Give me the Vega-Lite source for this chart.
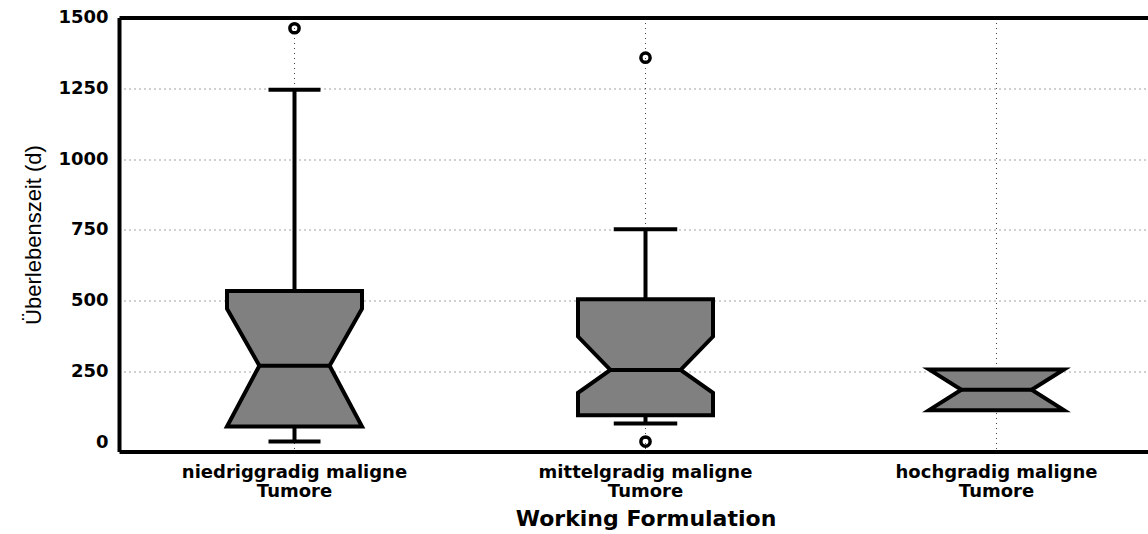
{
  "$schema": "https://vega.github.io/schema/vega-lite/v6.json",
  "width": 1029,
  "height": 434,
  "autosize": {"type": "none"},
  "padding": {"left": 119, "top": 17.5, "right": 0, "bottom": 82.5},
  "background": "white",
  "config": {"view": {"stroke": null}, "font": "DejaVu Sans"},
  "datasets": {
    "stats": [
      {"group": "niedriggradig maligne Tumore", "lo": 2, "q1": 55, "notch_lo": null, "median": 270, "notch_hi": 471, "q3": 534, "hi": 1245},
      {"group": "mittelgradig maligne Tumore", "lo": 66, "q1": 95, "notch_lo": 174, "median": 255, "notch_hi": 373, "q3": 505, "hi": 752},
      {"group": "hochgradig maligne Tumore", "lo": null, "q1": 113, "notch_lo": null, "median": 185, "notch_hi": null, "q3": 257, "hi": null}
    ],
    "outliers": [
      {"group": "niedriggradig maligne Tumore", "value": 1462},
      {"group": "mittelgradig maligne Tumore", "value": 1358},
      {"group": "mittelgradig maligne Tumore", "value": 2}
    ]
  },
  "resolve": {"axis": {"x": "independent"}},
  "layer": [
    {
      "data": {"name": "stats"},
      "mark": {"type": "rule", "color": "black", "strokeWidth": 4},
      "encoding": {
        "x": {"field": "group", "type": "nominal", "sort": ["niedriggradig maligne Tumore", "mittelgradig maligne Tumore", "hochgradig maligne Tumore"], "scale": {"type": "band", "range": [0, 1053], "paddingInner": 0, "paddingOuter": 0},
          "axis": {"orient": "bottom", "domain": true, "domainWidth": 4, "domainColor": "black", "ticks": false, "grid": true, "gridDash": [1, 4], "gridColor": "#444", "gridWidth": 1, "bandPosition": 0.5,
            "labelExpr": "[replace(datum.label, ' Tumore', ''), 'Tumore']", "labelLimit": 0, "labelOverlap": false, "labelFont": "DejaVu Sans", "labelFontWeight": "bold", "labelFontSize": 18, "labelLineHeight": 19, "labelPadding": 12, "labelAngle": 0, "labelColor": "black", "labelBaseline": "top",
            "title": "Working Formulation", "titleFont": "DejaVu Sans", "titleFontSize": 22, "titleFontWeight": "bold", "titleColor": "black", "titlePadding": 8}},
        "y": {"field": "lo", "type": "quantitative", "title": "Überlebenszeit (d)", "scale": {"domain": [-33, 1500], "nice": false, "zero": false},
          "axis": {"values": [0, 250, 500, 750, 1000, 1250, 1500], "format": "d", "ticks": false, "domain": true, "domainWidth": 4, "domainColor": "black",
            "labelFont": "DejaVu Sans", "labelFontWeight": "bold", "labelFontSize": 18, "labelColor": "black", "labelPadding": 11,
            "grid": true, "gridDash": [1, 4], "gridColor": "#444", "gridWidth": 1,
            "gridOpacity": {"condition": {"test": "datum.value === 0 || datum.value === 1500", "value": 0}, "value": 1},
            "titleFont": "Liberation Sans", "titleFontSize": 22, "titleFontWeight": "normal", "titleColor": "black", "titlePadding": 12}},
        "y2": {"field": "hi"}
      }
    },
    {
      "data": {"name": "stats"},
      "transform": [
        {"fold": ["lo", "hi"], "as": ["cap", "capvalue"]},
        {"filter": "isValid(datum.capvalue)"}
      ],
      "mark": {"type": "tick", "color": "black", "thickness": 4, "opacity": 1},
      "encoding": {
        "x": {"field": "group", "type": "nominal", "sort": ["niedriggradig maligne Tumore", "mittelgradig maligne Tumore", "hochgradig maligne Tumore"], "axis": null},
        "y": {"field": "capvalue", "type": "quantitative", "title": "Überlebenszeit (d)"},
        "size": {"field": "group", "type": "ordinal", "scale": {"domain": ["niedriggradig maligne Tumore", "mittelgradig maligne Tumore", "hochgradig maligne Tumore"], "range": [52, 75, 60]}, "legend": null}
      }
    },
    {
      "data": {"name": "stats"},
      "transform": [
        {"fold": ["L", "R"], "as": ["side", "_s"]},
        {"fold": ["q3", "notch_hi", "median", "notch_lo", "q1"], "as": ["stat", "value"]},
        {"filter": "isValid(datum.value)"},
        {"calculate": "(datum.side === 'L' ? -1 : 1) * (datum.stat === 'median' ? 0.52 : 1)", "as": "xo"},
        {"calculate": "datum.side === 'L' ? -datum.value : 10000 + datum.value", "as": "ord"}
      ],
      "mark": {"type": "line", "fill": "#808080", "stroke": "black", "strokeWidth": 4, "strokeJoin": "miter", "interpolate": "linear-closed"},
      "encoding": {
        "x": {"field": "group", "type": "nominal", "sort": ["niedriggradig maligne Tumore", "mittelgradig maligne Tumore", "hochgradig maligne Tumore"], "axis": null},
        "xOffset": {"field": "xo", "type": "quantitative", "scale": {"domain": [-2.6, 2.6], "range": [0, 351]}},
        "y": {"field": "value", "type": "quantitative", "title": "Überlebenszeit (d)"},
        "order": {"field": "ord", "type": "quantitative"},
        "detail": {"field": "group", "type": "nominal"}
      }
    },
    {
      "data": {"name": "stats"},
      "mark": {"type": "tick", "color": "black", "thickness": 4, "size": 72, "opacity": 1},
      "encoding": {
        "x": {"field": "group", "type": "nominal", "sort": ["niedriggradig maligne Tumore", "mittelgradig maligne Tumore", "hochgradig maligne Tumore"], "axis": null},
        "y": {"field": "median", "type": "quantitative", "title": "Überlebenszeit (d)"}
      }
    },
    {
      "data": {"name": "outliers"},
      "mark": {"type": "point", "shape": "circle", "filled": false, "stroke": "black", "strokeWidth": 3.5, "size": 85, "opacity": 1},
      "encoding": {
        "x": {"field": "group", "type": "nominal", "sort": ["niedriggradig maligne Tumore", "mittelgradig maligne Tumore", "hochgradig maligne Tumore"],
          "axis": {"orient": "top", "domain": true, "domainWidth": 4, "domainColor": "black", "labels": false, "ticks": false, "grid": false, "title": null}},
        "y": {"field": "value", "type": "quantitative", "title": "Überlebenszeit (d)"}
      }
    }
  ]
}
